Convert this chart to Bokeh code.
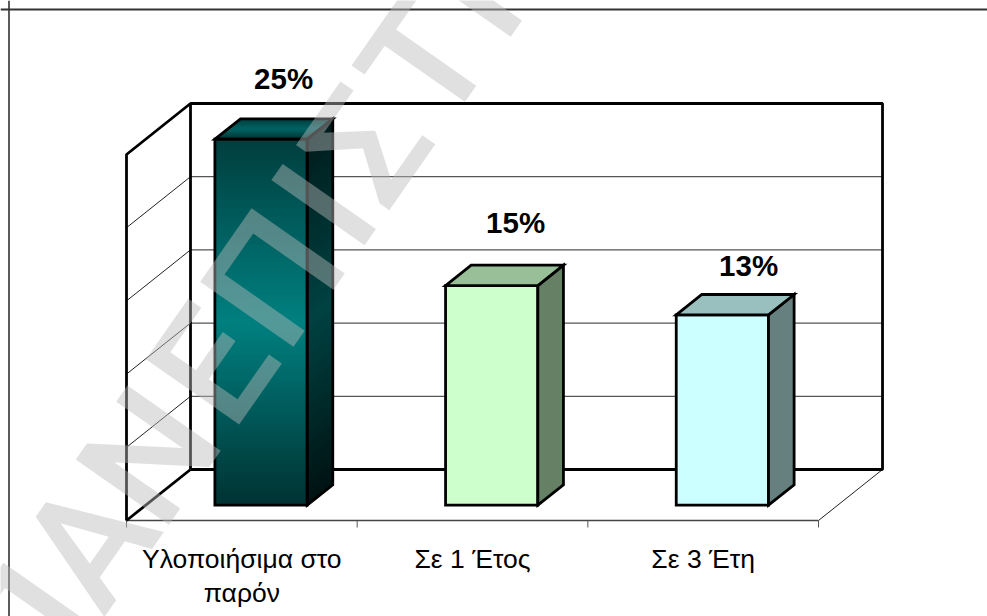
from bokeh.core.properties import value
from bokeh.embed import file_html
from bokeh.models import Range1d
from bokeh.plotting import figure
from bokeh.resources import INLINE
import math

# Chart content
categories = ["Υλοποιήσιμα στο\nπαρόν", "Σε 1 Έτος", "Σε 3 Έτη"]
percentages = [25, 15, 13]
axis_max = 25
axis_step = 5

# Stamp lettering and where each glyph sits along its baseline, in pixels
stamp_letters = ["Π", "Α", "Ν", "Ε", "Π", "Ι", "Σ", "Τ", "Η"]
stamp_centres = [-72, 38, 144, 255, 361, 450, 523, 625, 740]

# Pixel scale of the pseudo-3D projection
PX_PER_CAT = 230.67
PX_PER_PCT = 14.64
ORIGIN_X, ORIGIN_Y = 126.0, 520.0
DEPTH_X = 64 / PX_PER_CAT
DEPTH_Y = 51 / PX_PER_PCT
BAR_HALF = 0.2
NEAR, FAR = 0.3, 0.7
W, H = 987, 616


def dx(px):
    return (px - ORIGIN_X) / PX_PER_CAT


def dy(py):
    return (ORIGIN_Y - py) / PX_PER_PCT


p = figure(width=W, height=H, output_backend="svg", toolbar_location=None,
           x_range=Range1d(dx(0), dx(W)), y_range=Range1d(dy(H), dy(0)),
           x_axis_location=None, y_axis_location=None, min_border=0)
p.grid.visible = False
p.outline_line_color = None
p.background_fill_color = "white"

ncat = len(categories)
LW = 2.8

# Slide frame: only the top and left rules are present
p.line([dx(0), dx(W)], [dy(9), dy(9)], line_color="#333333", line_width=2)
p.line([dx(8.5), dx(8.5)], [dy(0), dy(H)], line_color="#333333", line_width=1.6)

# Gridlines on the back wall and the side wall
for v in range(axis_step, axis_max, axis_step):
    p.line([DEPTH_X, ncat + DEPTH_X], [v + DEPTH_Y, v + DEPTH_Y], line_color="#555555", line_width=1.2)
    p.line([0, DEPTH_X], [v, v + DEPTH_Y], line_color="#222222", line_width=1)

# Floor edges and category ticks
p.line([0, ncat], [0, 0], line_color="#444444", line_width=1.4)
p.line([ncat, ncat + DEPTH_X], [0, DEPTH_Y], line_color="#222222", line_width=1)
for i in range(ncat + 1):
    p.line([i, i], [0, -7 / PX_PER_PCT], line_color="#555555", line_width=1)

# Back wall and side wall outlines
p.line([DEPTH_X, ncat + DEPTH_X, ncat + DEPTH_X, DEPTH_X, DEPTH_X],
       [DEPTH_Y, DEPTH_Y, axis_max + DEPTH_Y, axis_max + DEPTH_Y, DEPTH_Y],
       line_color="black", line_width=LW)
p.line([0, 0, DEPTH_X], [0, axis_max, axis_max + DEPTH_Y], line_color="black", line_width=LW)
p.line([0, DEPTH_X], [0, DEPTH_Y], line_color="black", line_width=LW)


def mix(stops, t):
    for (t0, c0), (t1, c1) in zip(stops, stops[1:]):
        if t <= t1:
            f = (t - t0) / (t1 - t0)
            return "#%02x%02x%02x" % tuple(round(a + (b - a) * f) for a, b in zip(c0, c1))
    return "#%02x%02x%02x" % stops[-1][1]


front_stops = [(0, (0, 62, 62)), (0.5, (0, 128, 128)), (1, (0, 50, 50))]
side_stops = [(0, (0, 28, 28)), (0.5, (0, 66, 66)), (1, (0, 18, 18))]
top_stops = [(0, (0, 60, 60)), (0.5, (0, 100, 100)), (1, (0, 50, 50))]

plain_faces = [None, ("#ccffcc", "#99bf99", "#668066"), ("#ccffff", "#99bfbf", "#668080")]

for i, val in enumerate(percentages):
    cx = i + 0.5 + NEAR * DEPTH_X
    x0, x1 = cx - BAR_HALF, cx + BAR_HALF
    y0 = NEAR * DEPTH_Y
    y1 = val + y0
    ddx = (FAR - NEAR) * DEPTH_X
    ddy = (FAR - NEAR) * DEPTH_Y
    if plain_faces[i] is None:
        # Each band runs down to the bar's foot, so later bands paint over any seam
        n = 90
        for k in range(n):
            t = (k + 0.5) / n
            ya = y1 - (y1 - y0) * k / n
            p.quad(left=x0, right=x1, top=ya, bottom=y0, fill_color=mix(front_stops, t), line_color=None)
            p.patch([x1, x1 + ddx, x1 + ddx, x1], [ya, ya + ddy, y0 + ddy, y0],
                    fill_color=mix(side_stops, t), line_color=None)
        m = 14
        for k in range(m):
            t = (k + 0.5) / m
            a = k / m
            p.patch([x0 + ddx * (1 - a), x1 + ddx * (1 - a), x1, x0],
                    [y1 + ddy * (1 - a), y1 + ddy * (1 - a), y1, y1],
                    fill_color=mix(top_stops, t), line_color=None)
        front_fill = top_fill = side_fill = None
    else:
        front_fill, top_fill, side_fill = plain_faces[i]
    # Faces: fill colour for the plain bars, outline for all of them
    p.patch([x0, x1, x1, x0], [y0, y0, y1, y1], fill_color=front_fill, line_color="black", line_width=LW, line_join="miter")
    p.patch([x1, x1 + ddx, x1 + ddx, x1], [y0, y0 + ddy, y1 + ddy, y1], fill_color=side_fill, line_color="black", line_width=LW, line_join="miter")
    p.patch([x0, x1, x1 + ddx, x0 + ddx], [y1, y1, y1 + ddy, y1 + ddy], fill_color=top_fill, line_color="black", line_width=LW, line_join="miter")

# Percentage labels, hand-placed above each bar in the source chart
label_shift_x = [0.181, 0.187, 0.197]
label_lift = [5.2, 5.35, 4.4]
for i, val in enumerate(percentages):
    p.text([i + 0.5 + label_shift_x[i]], [val + label_lift[i]], text=[f"{val}%"],
           text_font=value("Liberation Sans"), text_font_style="bold", text_font_size="29.5px",
           text_color="black", text_align="center", text_baseline="alphabetic")

# Category labels below the floor edge
for i, cat in enumerate(categories):
    for j, line in enumerate(cat.split("\n")):
        p.text([i + 0.5], [dy(558)], text=[line], y_offset=[34 * j],
               text_font=value("Liberation Sans"), text_font_size="26.5px",
               text_color="black", text_align="center", text_baseline="alphabetic")

# Translucent diagonal stamp lying over the whole slide, set glyph by glyph
angle = math.radians(55)
stamp_x = [dx(67 + s * math.cos(angle)) for s in stamp_centres]
stamp_y = [dy(574 - s * math.sin(angle)) for s in stamp_centres]
p.text(stamp_x, stamp_y, text=stamp_letters, angle=angle,
       text_font=value("Roboto Medium"), text_font_size="160px",
       text_color="#bbbbbb", text_alpha=0.45, text_align="center", text_baseline="alphabetic")

open("out.html", "w").write(file_html(p, INLINE))
